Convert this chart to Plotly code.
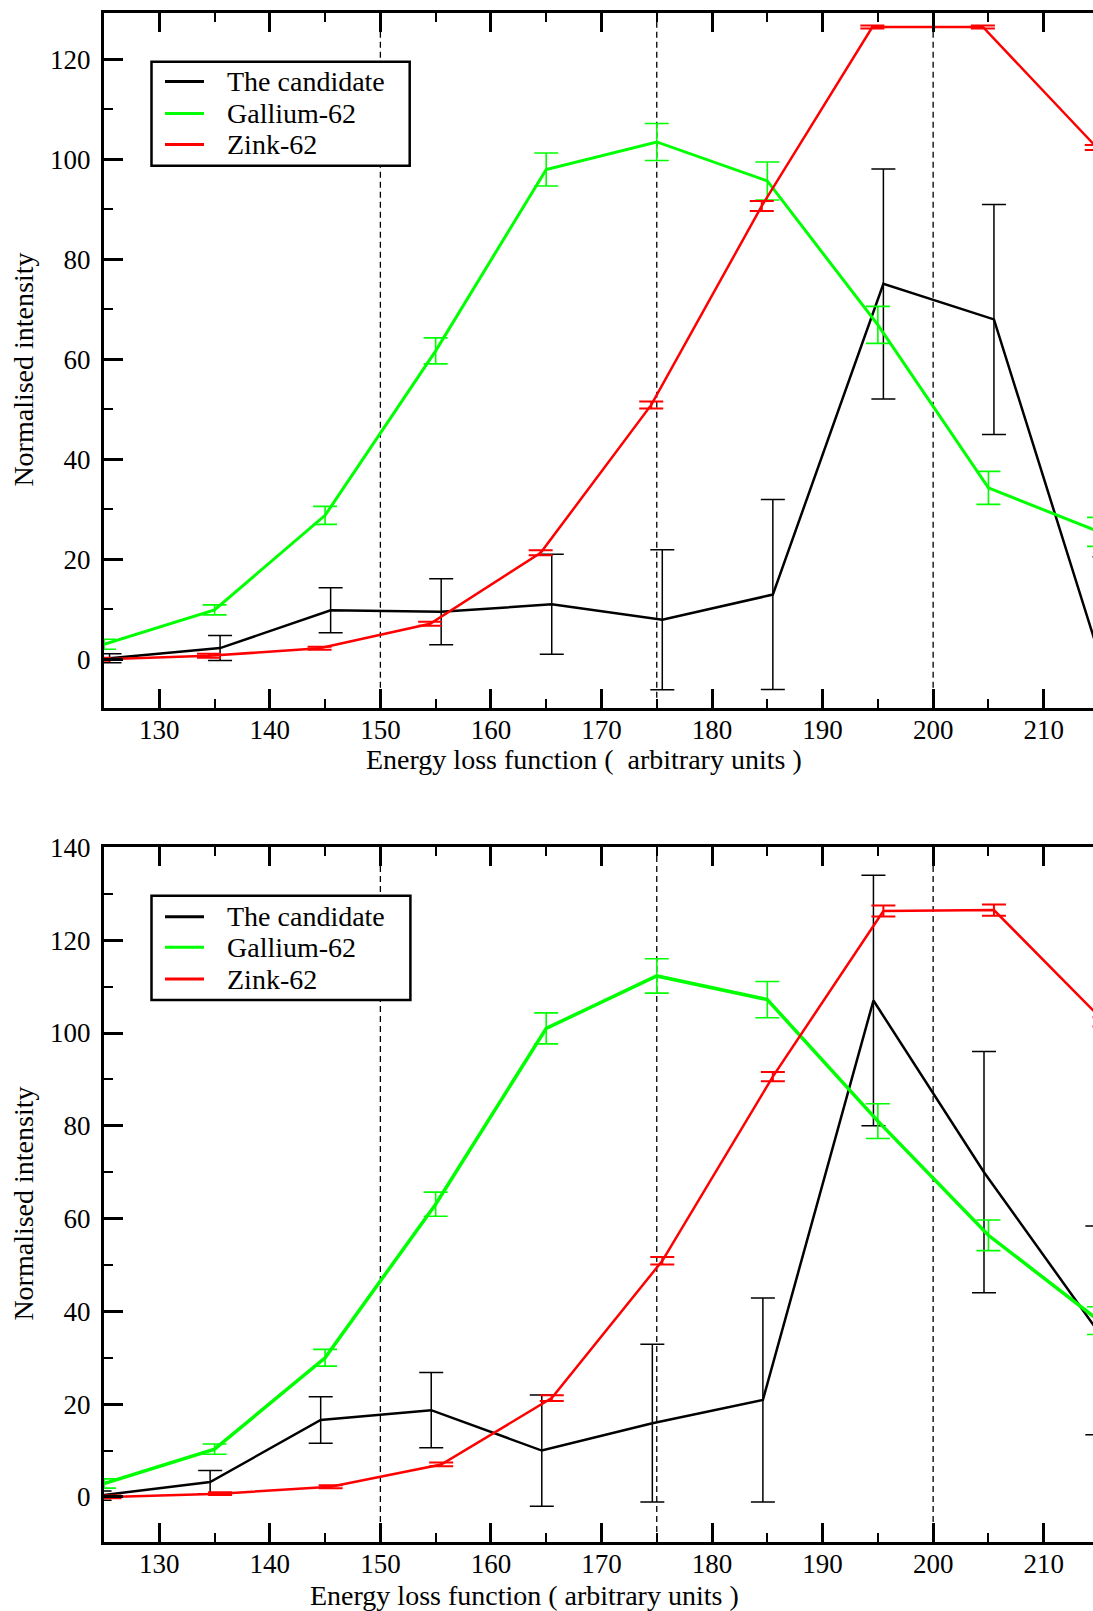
import plotly.graph_objects as go

# ---------------- data ----------------
series_names = ["The candidate", "Gallium-62", "Zink-62"]
series_colors = ["#000000", "#00ff00", "#ff0000"]

# upper panel
top_cand_x = [125.5, 135.5, 145.5, 155.5, 165.5, 175.5, 185.5, 195.5, 205.5, 215.5]
top_cand_y = [0.2, 2.25, 9.8, 9.5, 11.0, 7.9, 12.95, 75.1, 68.0, -2.5]
top_cand_err = [0.9, 2.5, 4.5, 6.6, 10.0, 14.0, 19.0, 23.0, 23.0, 23.0]

top_ga_x = [125, 135, 145, 155, 165, 175, 185, 195, 205, 215]
top_ga_y = [3.0, 9.9, 28.8, 61.7, 98.0, 103.5, 95.7, 66.9, 34.3, 25.5]
top_ga_err = [1.0, 1.0, 1.8, 2.6, 3.3, 3.7, 3.8, 3.7, 3.3, 2.9]

top_zn_x = [124.5, 134.5, 144.5, 154.5, 164.5, 174.5, 184.5, 194.5, 204.5, 214.8]
top_zn_y = [0.0, 0.7, 2.2, 7.1, 21.3, 50.9, 90.7, 126.5, 126.5, 102.4]
top_zn_err = [0.3, 0.4, 0.3, 0.4, 0.5, 0.7, 1.0, 0.3, 0.3, 0.5]

# lower panel
bot_cand_x = [124.6, 134.6, 144.6, 154.6, 164.6, 174.6, 184.6, 194.6, 204.6, 214.85]
bot_cand_y = [0.3, 3.2, 16.6, 18.7, 10.0, 15.9, 20.9, 107.0, 70.0, 35.9]
bot_cand_err = [1.0, 2.5, 5.0, 8.1, 12.0, 17.0, 22.0, 27.0, 26.0, 22.5]

bot_ga_x = [125, 135, 145, 155, 165, 175, 185, 195, 205, 215]
bot_ga_y = [2.9, 10.3, 30.0, 63.1, 101.0, 112.3, 107.2, 81.0, 56.4, 38.0]
bot_ga_err = [1.0, 1.1, 1.8, 2.6, 3.35, 3.7, 3.9, 3.75, 3.3, 3.0]

bot_zn_x = [125.5, 135.5, 145.5, 155.5, 165.5, 175.5, 185.5, 195.5, 205.5, 215.5]
bot_zn_y = [0.0, 0.7, 2.2, 7.0, 21.3, 50.9, 90.6, 126.3, 126.5, 102.4]
bot_zn_err = [0.3, 0.3, 0.3, 0.4, 0.6, 0.8, 1.0, 1.2, 1.2, 1.0]

guide_energies = [150, 175, 200]

x_ticks = [130, 140, 150, 160, 170, 180, 190, 200, 210]
x_minor = [125, 135, 145, 155, 165, 175, 185, 195, 205, 215]
top_y_ticks = [0, 20, 40, 60, 80, 100, 120]
top_y_minor = [10, 30, 50, 70, 90, 110]
bot_y_ticks = [0, 20, 40, 60, 80, 100, 120, 140]
bot_y_minor = [10, 30, 50, 70, 90, 110, 130]

x_title_top = "Energy loss function (  arbitrary units )"
x_title_bot = "Energy loss function ( arbitrary units )"
y_title = "Normalised intensity"

# ---------------- geometry ----------------
W, H = 1093, 1611
ML, MR, MT, MB = 104, 0, 13, 69
PW = W - ML - MR
PH = H - MT - MB
FONT = "Liberation Serif"


def fx(px):
    return (px - ML) / PW


def fy(py):
    return (H - MB - py) / PH


fig = go.Figure()

panels = [
    ("x", "y", [(top_cand_x, top_cand_y, top_cand_err),
                (top_ga_x, top_ga_y, top_ga_err),
                (top_zn_x, top_zn_y, top_zn_err)], [2.5, 3.0, 2.5]),
    ("x2", "y2", [(bot_cand_x, bot_cand_y, bot_cand_err),
                  (bot_ga_x, bot_ga_y, bot_ga_err),
                  (bot_zn_x, bot_zn_y, bot_zn_err)], [2.5, 3.5, 2.5]),
]
err_thick = [1.5, 1.6, 2.0]

for xa, ya, series, widths in panels:
    for i, (xs, ys, es) in enumerate(series):
        fig.add_trace(go.Scatter(
            x=xs, y=ys, mode="lines", name=series_names[i],
            xaxis=xa, yaxis=ya, showlegend=False,
            line=dict(color=series_colors[i], width=widths[i]),
            error_y=dict(type="data", array=es, visible=True,
                         color=series_colors[i], thickness=err_thick[i], width=12),
        ))

# guide lines
for xa, ya in [("x", "y"), ("x2", "y2")]:
    for g in guide_energies:
        fig.add_shape(type="line", xref=xa, yref=ya + " domain", x0=g, x1=g, y0=0, y1=1,
                      line=dict(color="black", width=1.3, dash="6px,4px"), layer="below")

top_dom = [fy(707.8), 1]
bot_dom = [0, fy(847.2)]
top_range = [-9.7, 129.3]
bot_range = [-9.71, 140.05]
x_range = [125, 214.46]

tickfont = dict(family=FONT, size=27, color="black")
xcommon = dict(range=x_range, tickvals=x_ticks, ticktext=[str(v) for v in x_ticks],
               showline=True, linecolor="black", linewidth=3, mirror="ticks",
               ticks="inside", ticklen=19, tickwidth=3, tickcolor="black",
               minor=dict(tickvals=x_minor, ticks="inside", ticklen=9, tickwidth=2, tickcolor="black"),
               showgrid=False, zeroline=False, tickfont=tickfont, ticklabelstandoff=-4)


def ycommon(rng, tv, mv, show_line=True, labels=True):
    return dict(range=rng, tickvals=tv, ticktext=[str(v) for v in tv],
                showline=show_line, linecolor="black", linewidth=3,
                ticks="inside", ticklen=19, tickwidth=3, tickcolor="black",
                minor=dict(tickvals=mv, ticks="inside", ticklen=9, tickwidth=2, tickcolor="black"),
                showgrid=False, zeroline=False, tickfont=tickfont, showticklabels=labels,
                ticklabelstandoff=5)


fig.update_layout(
    width=W, height=H,
    margin=dict(l=ML, r=MR, t=MT, b=MB, pad=0),
    paper_bgcolor="white", plot_bgcolor="white",
    font=dict(family=FONT, color="black"),
    showlegend=False,
    xaxis=dict(anchor="y", **xcommon),
    xaxis2=dict(anchor="y2", **xcommon),
    yaxis=dict(anchor="x", domain=top_dom, **ycommon(top_range, top_y_ticks, top_y_minor)),
    yaxis2=dict(anchor="x2", domain=bot_dom, **ycommon(bot_range, bot_y_ticks, bot_y_minor)),
    yaxis3=dict(anchor="x", overlaying="y", side="right",
                **ycommon(top_range, top_y_ticks, top_y_minor, show_line=False, labels=False)),
    yaxis4=dict(anchor="x2", overlaying="y2", side="right",
                **ycommon(bot_range, bot_y_ticks, bot_y_minor, show_line=False, labels=False)),
)

# axis titles
ann_font = dict(family=FONT, size=28, color="black")
fig.add_annotation(x=fx(584.4), y=fy(759.5), xref="paper", yref="paper", text=x_title_top,
                   showarrow=False, font=ann_font, xanchor="center", yanchor="middle")
fig.add_annotation(x=fx(524.4), y=fy(1595.4), xref="paper", yref="paper", text=x_title_bot,
                   showarrow=False, font=ann_font, xanchor="center", yanchor="middle")
for cy in [370, 1204]:
    fig.add_annotation(x=fx(22.6), y=fy(cy), xref="paper", yref="paper", text=y_title,
                       textangle=-90, showarrow=False, font=ann_font,
                       xanchor="center", yanchor="middle")

# legends (one box per panel)
legend_boxes = [(151.5, 61.7, 409.7, 165.7, [81.5, 113.5, 144.5]),
                (151.5, 895.7, 410.4, 1000.0, [916.7, 947.3, 979.0])]
for (x0, y0, x1, y1, rows) in legend_boxes:
    fig.add_shape(type="rect", xref="paper", yref="paper", x0=fx(x0), x1=fx(x1),
                  y0=fy(y1), y1=fy(y0), line=dict(color="black", width=2.5),
                  fillcolor="white", layer="above")
    for i, ry in enumerate(rows):
        fig.add_shape(type="line", xref="paper", yref="paper", x0=fx(165), x1=fx(204),
                      y0=fy(ry), y1=fy(ry), line=dict(color=series_colors[i], width=3),
                      layer="above")
        fig.add_annotation(x=fx(224.5), y=fy(ry), xref="paper", yref="paper",
                           text=series_names[i], showarrow=False, font=ann_font,
                           xanchor="left", yanchor="middle")

fig.write_html("out.html")
